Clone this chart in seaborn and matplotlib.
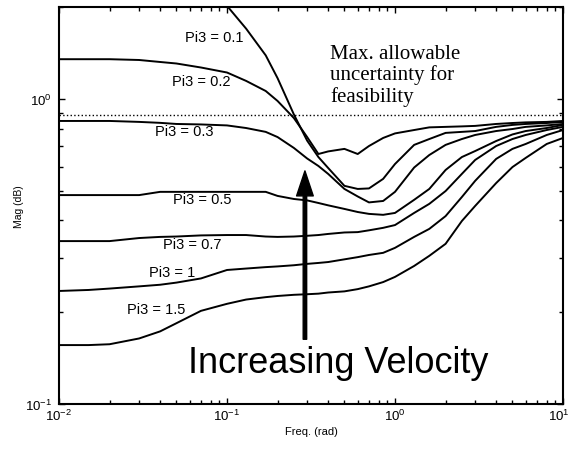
import numpy as np
import pandas as pd
import seaborn as sns
import matplotlib.pyplot as plt
from matplotlib.ticker import NullFormatter

nan = np.nan

freq = [0.01, 0.015, 0.02, 0.03, 0.04, 0.05, 0.07, 0.1, 0.13, 0.17,
        0.2, 0.25, 0.3, 0.35, 0.4, 0.5, 0.6, 0.7, 0.85, 1,
        1.3, 1.6, 2, 2.5, 3, 4, 5, 6, 8, 10]

pi3 = ["0.1", "0.2", "0.3", "0.5", "0.7", "1", "1.5"]

mag_01 = [nan, nan, nan, nan, nan, nan, 2.6, 2.02, 1.70, 1.39,
          1.17, 0.89, 0.73, 0.645, 0.594, 0.519, 0.507, 0.509, 0.547, 0.612,
          0.707, 0.739, 0.774, 0.780, 0.785, 0.810, 0.822, 0.828, 0.834, 0.841]
mag_02 = [1.35, 1.35, 1.35, 1.342, 1.322, 1.307, 1.268, 1.221, 1.146, 1.062,
          0.985, 0.866, 0.750, 0.660, 0.673, 0.686, 0.660, 0.701, 0.745, 0.771,
          0.791, 0.807, 0.810, 0.813, 0.816, 0.828, 0.834, 0.838, 0.841, 0.847]
mag_03 = [0.847, 0.847, 0.847, 0.841, 0.835, 0.828, 0.825, 0.819, 0.803, 0.780,
          0.750, 0.691, 0.638, 0.603, 0.568, 0.507, 0.479, 0.458, 0.463, 0.496,
          0.596, 0.655, 0.707, 0.739, 0.762, 0.785, 0.797, 0.810, 0.819, 0.828]
mag_05 = [0.484, 0.484, 0.484, 0.484, 0.496, 0.496, 0.496, 0.496, 0.496, 0.496,
          0.481, 0.470, 0.465, 0.456, 0.448, 0.436, 0.426, 0.420, 0.417, 0.423,
          0.467, 0.507, 0.585, 0.645, 0.675, 0.728, 0.765, 0.785, 0.803, 0.822]
mag_07 = [0.342, 0.342, 0.342, 0.350, 0.353, 0.354, 0.357, 0.358, 0.358, 0.354,
          0.353, 0.354, 0.356, 0.358, 0.361, 0.365, 0.366, 0.371, 0.378, 0.386,
          0.423, 0.453, 0.499, 0.568, 0.631, 0.701, 0.739, 0.762, 0.791, 0.810]
mag_1 = [0.2347, 0.2365, 0.239, 0.243, 0.246, 0.250, 0.258, 0.275, 0.278, 0.281,
         0.2825, 0.285, 0.288, 0.290, 0.292, 0.298, 0.303, 0.308, 0.313, 0.325,
         0.353, 0.375, 0.413, 0.477, 0.539, 0.636, 0.686, 0.712, 0.762, 0.791]
mag_15 = [0.156, 0.156, 0.157, 0.164, 0.173, 0.184, 0.202, 0.213, 0.220, 0.224,
          0.226, 0.228, 0.229, 0.230, 0.232, 0.234, 0.238, 0.243, 0.251, 0.261,
          0.2835, 0.306, 0.335, 0.398, 0.446, 0.530, 0.598, 0.641, 0.712, 0.745]

limit = 0.886

xticks = [0.01, 0.1, 1, 10]
xtick_labels = [r"$\mathdefault{10^{-2}}$", r"$\mathdefault{10^{-1}}$",
                r"$\mathdefault{10^{0}}$", ""]
last_xlabel = r"$\mathdefault{10^{1}}$"

curves = [mag_01, mag_02, mag_03, mag_05, mag_07, mag_1, mag_15]
df = pd.DataFrame({
    "freq": freq * len(pi3),
    "mag": sum(curves, []),
    "pi3": np.repeat(pi3, len(freq)),
}).dropna()

sns.set_style("ticks")
plt.rcParams["font.family"] = ["Liberation Sans", "DejaVu Sans"]
plt.rcParams.update({"text.color": "black", "axes.labelcolor": "black",
                     "xtick.color": "black", "ytick.color": "black"})

fig = plt.figure(figsize=(5.72, 4.52), dpi=100)
ax = fig.add_axes([0.1031, 0.104, 0.8812, 0.878])
ax.set(xscale="log", yscale="log")

sns.lineplot(data=df, x="freq", y="mag", units="pi3", estimator=None,
             color="black", lw=1.4, ax=ax)
ax.axhline(limit, color="black", ls=":", lw=1)

# curve labels
label_pos = {"0.1": (0.0562, 1.597), "0.2": (0.0471, 1.146), "0.3": (0.0373, 0.785),
             "0.5": (0.0477, 0.470), "0.7": (0.0416, 0.335), "1": (0.0343, 0.271),
             "1.5": (0.0254, 0.205)}
for lab, (x, y) in label_pos.items():
    ax.text(x, y, f"Pi3 = {lab}", fontsize=10.5, ha="left", va="center")

ax.text(0.41, 1.514, "Max. allowable\nuncertainty for\nfeasibility",
        family="Liberation Serif", fontsize=15, ha="left", va="top", linespacing=1.1)

ax.annotate("", xy=(0.291, 0.581), xytext=(0.291, 0.163),
            arrowprops=dict(facecolor="black", edgecolor="black", width=2.5,
                            headwidth=12, headlength=18, shrink=0))
ax.text(0.0586, 0.127, "Increasing Velocity", fontsize=26, ha="left", va="baseline")

ax.set_xlim(0.01, 10)
ax.set_ylim(0.1, 2.0)
ax.set_xticks(xticks, labels=xtick_labels)
# last label placed by hand so it ends inside the figure, like the original
ax.annotate(last_xlabel, xy=(11.0, 0), xycoords=("data", "axes fraction"),
            xytext=(0, -3), textcoords="offset points", ha="right", va="top",
            fontsize=9.5, annotation_clip=False)
ax.set_xlabel("Freq. (rad)", fontsize=8, labelpad=2)
ax.set_ylabel("Mag (dB)", fontsize=7.5, labelpad=1)
ax.yaxis.set_minor_formatter(NullFormatter())
ax.xaxis.set_minor_formatter(NullFormatter())
ax.tick_params(which="both", direction="in", top=True, right=True, width=1, labelsize=9.5)
ax.tick_params(which="major", length=4, pad=3)
ax.tick_params(axis="y", which="major", pad=5)
ax.tick_params(which="minor", length=3)
for s in ax.spines.values():
    s.set_linewidth(1.5)
    s.set_color("black")

fig.savefig("out.png", dpi=100)
